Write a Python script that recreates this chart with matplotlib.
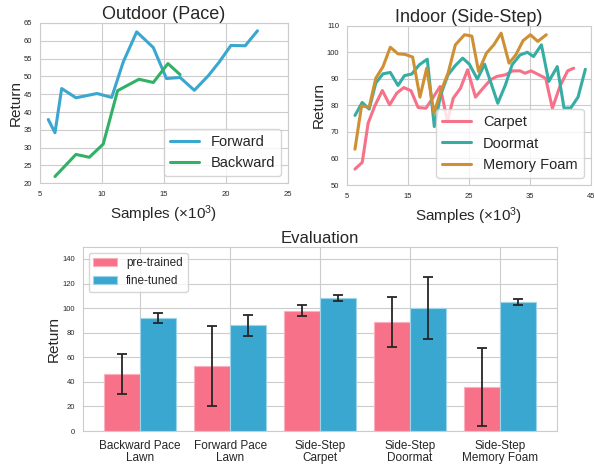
import matplotlib
matplotlib.use("Agg")
import matplotlib.pyplot as plt
import numpy as np
import seaborn as sns

# outdoor pace curves (samples x1e3, return)
fwd_x = [5.67, 6.21, 6.75, 7.9, 9.6, 10.78, 11.72, 12.8, 14.14, 15.2, 16.3, 17.45, 18.6, 19.47, 20.4, 21.55, 22.54]
fwd_y = [37.9, 34.2, 46.6, 44.0, 45.2, 44.1, 54.1, 62.5, 58.1, 49.4, 49.7, 46.1, 50.3, 54.1, 58.7, 58.6, 62.8]
bwd_x = [6.21, 7.9, 8.98, 10.1, 11.26, 12.98, 14.14, 15.32, 16.3]
bwd_y = [21.9, 28.1, 27.3, 31.0, 46.0, 49.2, 48.3, 53.6, 50.5]

# indoor side-step curves
carpet_x = [6.35, 7.54, 8.51, 9.6, 10.84, 12.03, 13.2, 14.35, 15.54, 16.7, 17.97, 19.05, 20.3, 21.5, 22.46,
            23.65, 24.8, 26.1, 27.35, 28.55, 29.6, 31.0, 32.2, 33.4, 34.2, 35.2, 36.5, 37.6, 38.7, 39.9,
            41.2, 42.2]
carpet_y = [56.0, 58.5, 73.3, 79.8, 85.6, 80.2, 84.6, 86.7, 85.5, 79.2, 78.9, 82.6, 87.1, 74.0, 82.7,
            86.5, 93.4, 83.1, 86.5, 89.6, 90.9, 91.5, 93.0, 93.0, 92.1, 93.0, 91.5, 90.2, 78.9, 87.0,
            93.0, 94.0]
door_x = [6.35, 7.54, 8.68, 9.76, 10.95, 12.14, 13.4, 14.46, 15.65, 16.9, 18.2, 19.35, 20.4, 21.6, 22.8,
          24.0, 25.1, 26.4, 27.6, 29.75, 31.0, 32.1, 33.4, 34.6, 35.6, 36.9, 38.1, 39.5, 40.6, 41.7,
          42.9, 44.1]
door_y = [76.2, 81.1, 78.6, 88.4, 91.9, 92.4, 87.5, 91.2, 91.8, 95.3, 97.4, 72.0, 84.0, 91.5, 95.0,
          97.8, 95.5, 89.9, 95.5, 80.8, 87.7, 95.3, 99.0, 100.0, 98.4, 102.8, 89.0, 94.6, 79.0, 79.0,
          83.1, 93.6]
mem_x = [6.35, 7.43, 8.68, 9.76, 10.95, 12.14, 13.4, 14.57, 15.8, 17.0, 18.1, 19.3, 20.4, 21.6, 22.8,
         24.3, 25.5, 26.6, 27.9, 29.1, 30.3, 31.6, 32.7, 33.9, 35.1, 36.3, 37.7]
mem_y = [63.5, 79.8, 79.3, 90.2, 94.6, 101.9, 99.4, 99.2, 98.2, 83.1, 94.0, 77.1, 85.2, 92.1, 102.8,
         106.6, 106.1, 92.8, 99.7, 102.8, 107.2, 95.9, 99.0, 104.4, 106.6, 104.1, 106.6]

# evaluation bars
tasks = ["Backward Pace\nLawn", "Forward Pace\nLawn", "Side-Step\nCarpet", "Side-Step\nDoormat",
         "Side-Step\nMemory Foam"]
pre_mean = [46.5, 53.0, 98.0, 88.5, 36.0]
pre_err = [16.3, 32.4, 4.3, 20.3, 31.6]
fine_mean = [92.0, 86.0, 108.5, 100.0, 105.0]
fine_err = [3.8, 8.3, 2.3, 25.2, 2.2]

sns.set_style("whitegrid")
plt.rcParams['font.family'] = ['Liberation Sans', 'DejaVu Sans']
plt.rcParams['mathtext.fontset'] = 'custom'
plt.rcParams['mathtext.rm'] = 'Liberation Sans'
plt.rcParams['mathtext.default'] = 'rm'

pal = sns.color_palette("husl", 8)
pink, orange, green, teal, blue = pal[0], pal[1], pal[3], pal[4], pal[5]

fig = plt.figure(figsize=(5.94, 4.66), dpi=100)
ax1 = fig.add_axes([0.0673, 0.6067, 0.4175, 0.344])
ax2 = fig.add_axes([0.5837, 0.603, 0.4110, 0.3418])
ax3 = fig.add_axes([0.1392, 0.0751, 0.799, 0.3955])

lw = 2.2
ax1.plot(fwd_x, fwd_y, color=blue, lw=lw, label="Forward")
ax1.plot(bwd_x, bwd_y, color=green, lw=lw, label="Backward")
ax1.set_xlim(5, 25)
ax1.set_ylim(20, 65)
ax1.set_xticks(np.arange(5, 26, 5))
ax1.set_yticks(np.arange(20, 66, 5))
ax1.set_title("Outdoor (Pace)", fontsize=13, pad=3)
ax1.set_xlabel("Samples (×10$^3$)", fontsize=11)
ax1.set_ylabel("Return", fontsize=11, labelpad=0.5)
ax1.legend(loc="lower right", fontsize=10.5)

ax2.plot(carpet_x, carpet_y, color=pink, lw=lw, label="Carpet")
ax2.plot(door_x, door_y, color=teal, lw=lw, label="Doormat")
ax2.plot(mem_x, mem_y, color=orange, lw=lw, label="Memory Foam")
ax2.set_xlim(5, 45)
ax2.set_ylim(50, 110)
ax2.set_xticks([5, 15, 25, 35, 45])
ax2.set_yticks(np.arange(50, 111, 10))
ax2.set_title("Indoor (Side-Step)", fontsize=13, pad=3)
ax2.set_xlabel("Samples (×10$^3$)", fontsize=11)
ax2.set_ylabel("Return", fontsize=11, labelpad=0.5)
ax2.legend(loc="lower right", fontsize=10.5)

for ax in (ax1, ax2):
    ax.tick_params(labelsize=5.5, pad=2)

x = np.arange(len(tasks))
w = 0.4
ekw = dict(ecolor="#262626", elinewidth=1.3, capsize=3.5, capthick=1.3)
ax3.bar(x - w / 2, pre_mean, w, yerr=pre_err, color=pink, edgecolor="#fab0bd", lw=0.8,
        label="pre-trained", error_kw=ekw)
ax3.bar(x + w / 2, fine_mean, w, yerr=fine_err, color=blue, edgecolor="#9ed3e8", lw=0.8,
        label="fine-tuned", error_kw=ekw)
ax3.set_xticks(x)
ax3.set_xticklabels(tasks, fontsize=8.5, linespacing=1.0)
ax3.set_xlim(-0.64, 4.64)
ax3.set_ylim(0, 150)
ax3.set_yticks(np.arange(0, 141, 20))
ax3.tick_params(axis='y', labelsize=5.5, pad=2)
ax3.tick_params(axis='x', pad=3)
ax3.set_title("Evaluation", fontsize=12, pad=3)
ax3.set_ylabel("Return", fontsize=11, labelpad=1)
ax3.legend(loc="upper left", fontsize=8.5)

fig.savefig("out.png", dpi=100)
